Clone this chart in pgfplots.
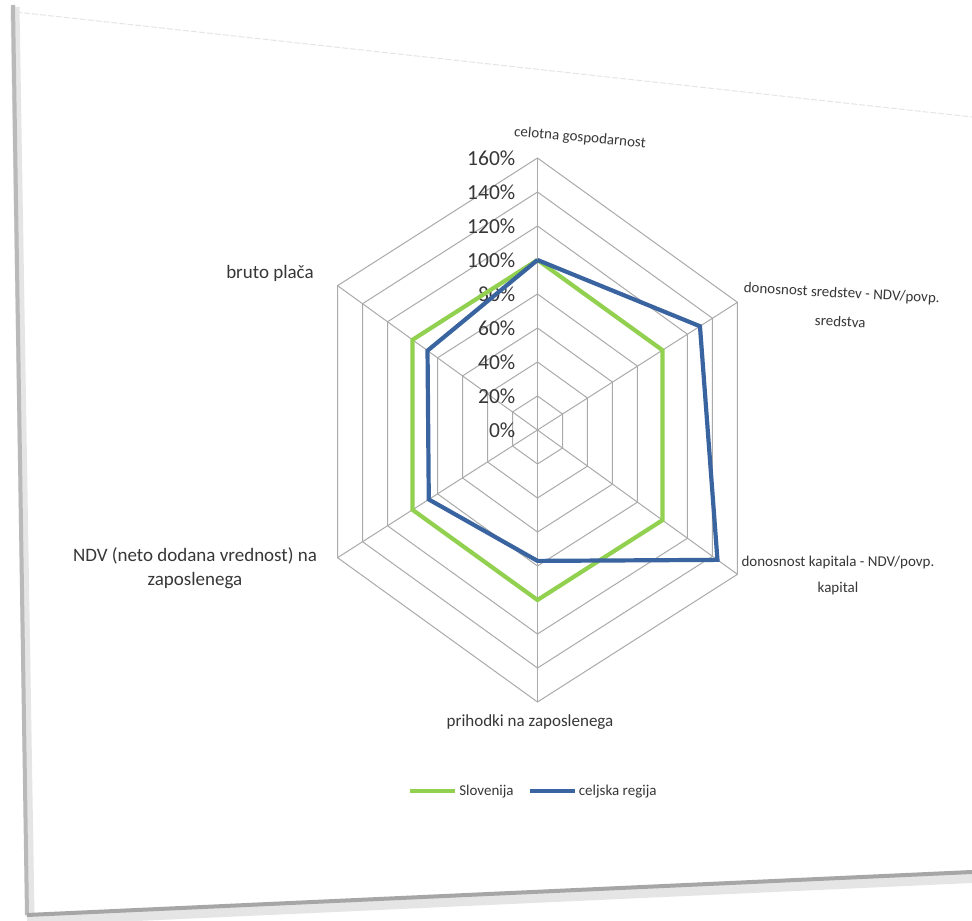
\documentclass[border=0pt]{standalone}
\usepackage{pgfplots}
\pgfplotsset{compat=1.18}
\usepackage{fontspec}
\setmainfont{Carlito}
\definecolor{slo}{RGB}{146,208,80}
\definecolor{cel}{RGB}{58,100,160}
\definecolor{gridc}{RGB}{170,170,170}
\definecolor{txt}{RGB}{55,55,55}

\begin{document}
\begin{tikzpicture}[x=1pt,y=1pt]
\path[use as bounding box] (0,0) rectangle (972,921);
\fill[white] (0,0) rectangle (972,921);
% page frame (tilted sheet)
\draw[gray!20, line width=1pt, dash pattern=on 6pt off 2pt] (16,909) -- (972,804);
\draw[gray!20, line width=9pt] (15,914) -- (30,5);
\draw[gray!55, line width=4pt] (13,916) -- (27,6);
\draw[gray!20, line width=12pt] (27,1) -- (972,44);
\draw[gray!70, line width=4pt] (27,6) -- (972,49);

\begin{axis}[
  at={(537.5pt,491pt)}, anchor=origin,
  x={(1.443pt,-0.06pt)}, y={(0pt,1.7pt)},
  xmin=-145, xmax=145, ymin=-165, ymax=165,
  hide axis, clip=false,
  legend style={at={(0.49,-0.124)}, anchor=center, draw=none, fill=none,
    legend columns=2, font=\fontsize{15}{18}\selectfont, text=txt,
    /tikz/every even column/.append style={column sep=12pt}},
  legend cell align=left,
  legend image code/.code={\draw[#1] (0pt,0pt) -- (45pt,0pt);},
]
% grid rings
\pgfplotsinvokeforeach{20,40,...,160}{
  \addplot[gridc, line width=1pt, data cs=polar, forget plot]
    coordinates {(90,#1) (30,#1) (-30,#1) (-90,#1) (-150,#1) (150,#1) (90,#1)};
}
% spokes
\pgfplotsinvokeforeach{90,30,-30,-90,-150,150}{
  \addplot[gridc, line width=1pt, data cs=polar, forget plot]
    coordinates {(#1,0) (#1,160)};
}
% tick labels
\pgfplotsinvokeforeach{0,20,...,160}{
  \node[anchor=east, text=txt, font=\fontsize{21.5}{23}\selectfont, inner sep=0pt]
    at (axis cs:0,#1) [xshift=-22pt] {#1\%};
}
% Slovenija
\addplot[slo, line width=4.2pt, line join=miter, data cs=polar]
  coordinates {(90,100) (30,100) (-30,100) (-90,100) (-150,100) (150,100) (90,100)};
\addlegendentry{Slovenija}
% celjska regija
\addplot[cel, line width=4.2pt, line join=miter, data cs=polar]
  coordinates {(90,100) (30,130) (-30,144) (-90,77) (-150,87) (150,88) (90,100)};
\addlegendentry{celjska regija}
\end{axis}

% category labels
\node[text=txt, font=\fontsize{15}{18}\selectfont, rotate=-5] at (580,783) {celotna gospodarnost};
\node[text=txt, font=\fontsize{19}{22}\selectfont] at (270,648) {bruto plača};
\node[text=txt, align=center, font=\fontsize{15}{29}\selectfont, rotate=-3] at (841,614)
  {donosnost sredstev - NDV/povp.\\sredstva};
\node[text=txt, align=center, font=\fontsize{15}{26}\selectfont] at (838,345)
  {donosnost kapitala - NDV/povp.\\kapital};
\node[text=txt, align=center, font=\fontsize{19}{24}\selectfont] at (195,352.5)
  {NDV (neto dodana vrednost) na\\zaposlenega};
\node[text=txt, font=\fontsize{17}{20}\selectfont] at (530,199) {prihodki na zaposlenega};
\end{tikzpicture}
\end{document}
